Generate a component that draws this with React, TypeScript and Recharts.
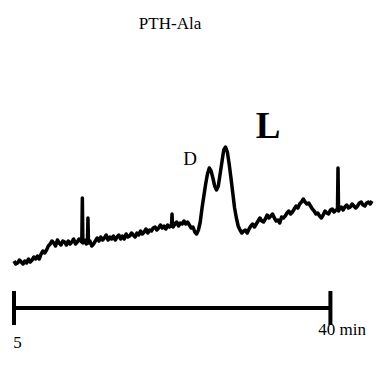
import { LineChart, Line, XAxis, YAxis, ReferenceLine, ReferenceDot } from "recharts"

// retention time (min) and detector signal (arbitrary units)
const times = [
  5.0, 5.2, 5.4, 5.6, 5.8, 6.0, 6.2, 6.4, 6.6, 6.8, 7.0, 7.2, 7.4, 7.6, 7.8, 8.0, 8.2, 8.4, 8.6, 8.8,
  9.0, 9.2, 9.4, 9.6, 9.8, 10.0, 10.2, 10.4, 10.6, 10.8, 11.0, 11.2, 11.4, 11.6, 11.8, 12.0, 12.2,
  12.5, 12.56, 12.62, 12.8, 13.0, 13.12, 13.18, 13.24, 13.4, 13.6, 13.8, 14.0, 14.2, 14.4, 14.6, 14.8,
  15.0, 15.2, 15.4, 15.6, 15.8, 16.0, 16.2, 16.4, 16.6, 16.8, 17.0, 17.2, 17.4, 17.6, 17.8, 18.0,
  18.2, 18.4, 18.6, 18.8, 19.0, 19.2, 19.4, 19.6, 19.8, 20.0, 20.2, 20.4, 20.6, 20.8, 21.0, 21.2,
  21.4, 21.6, 21.8, 22.0, 22.2, 22.42, 22.48, 22.54, 22.6, 22.8, 23.0, 23.2, 23.4, 23.6, 23.8, 24.0,
  24.2, 24.4, 24.6, 24.8, 25.0, 25.2, 25.4, 25.6, 25.8, 26.0, 26.2, 26.4, 26.6, 26.8, 27.0, 27.2,
  27.4, 27.6, 27.8, 28.0, 28.2, 28.4, 28.6, 28.8, 29.0, 29.2, 29.4, 29.6, 29.8, 30.0, 30.2, 30.4,
  30.6, 30.8, 31.0, 31.2, 31.4, 31.6, 31.8, 32.0, 32.2, 32.4, 32.6, 32.8, 33.0, 33.2, 33.4, 33.6,
  33.8, 34.0, 34.2, 34.4, 34.6, 34.8, 35.0, 35.2, 35.4, 35.6, 35.8, 36.0, 36.2, 36.4, 36.6, 36.8,
  37.0, 37.2, 37.4, 37.6, 37.8, 38.0, 38.2, 38.4, 38.6, 38.8, 39.0, 39.2, 39.4, 39.6, 39.8, 40.0,
  40.2, 40.4, 40.6, 40.78, 40.84, 40.9, 41.0, 41.2, 41.4, 41.6, 41.8, 42.0, 42.2, 42.4, 42.6, 42.8,
  43.0, 43.2, 43.4, 43.6, 43.8, 44.0, 44.2, 44.4, 44.6,
]

const signal = [
  55, 53.5, 54, 55.5, 54.5, 53.5, 55, 54, 56, 54.5, 55.5, 57, 56, 57.5, 56, 58.5, 60, 59, 60.5, 62.5,
  63.5, 65, 64, 62.5, 65.5, 64, 63, 65, 64.5, 63, 65, 63.5, 64.5, 66, 63.5, 64.5, 66,
  64.5, 86.5, 64, 65.5, 63.5, 64, 76.5, 64, 65, 62.5, 63.5, 65, 66.5, 65, 67, 65.5,
  66.5, 68, 65.5, 67, 66, 67.5, 65.5, 67, 68, 66, 67.5, 66, 68.5, 67, 67.5, 69,
  68, 67, 69, 68, 70, 68.5, 69.5, 71, 69, 70.5, 70, 71.5, 72, 70.5, 71.5, 73,
  71.5, 72.5, 71, 73, 72, 72.5, 78.5, 72.5, 72, 73.5, 74.5, 72.5, 74, 73.5, 75, 73.5,
  74.5, 73, 71.5, 72, 69.5, 68.5, 70.5, 74.5, 81.5, 87.5, 93.5, 98.5, 101.5, 100, 96.5, 92.5,
  90.5, 92.5, 98.5, 104.5, 110.5, 112, 109.5, 103.5, 96.5, 89, 81.5, 76.5, 72.5, 70.5, 69, 70,
  70.5, 69, 71, 72.5, 73.5, 72, 73.5, 75, 76.5, 75, 74.5, 76, 78, 76.5, 77.5, 78.5,
  76.5, 75, 75.5, 74, 77, 76.5, 77.5, 79, 80, 78.5, 79.5, 81, 82.5, 81.5, 83.5, 84.5,
  86, 84.5, 83.5, 84, 82.5, 81, 80, 78.5, 79, 77.5, 76.5, 78, 80, 79, 78.5, 80.5,
  81, 79.5, 80.5, 80.5, 101.5, 80, 81, 82, 80.5, 82, 83, 81.5, 82, 83.5, 82.5, 81.5,
  82.5, 84, 84.5, 83, 82.5, 84, 84.5, 83.5, 85,
]

const data = times.map((t, i) => ({ t, v: signal[i] }))

// scale bar from 5 to 40 min
const barStart = 5
const barEnd = 40
const barLevel = 31.5
const tickLow = 23
const tickHigh = 40

const serif = "'Liberation Serif', 'Times New Roman', serif"

export default function App() {
  return (
    <div style={{ position: "absolute", left: 0, top: 0, background: "#fff" }}>
      <LineChart width={386} height={371} data={data} margin={{ top: 0, right: 14, bottom: 0, left: 14 }}>
        <XAxis dataKey="t" type="number" domain={[5, 44.6]} hide />
        <YAxis type="number" domain={[0, 185.5]} hide />
        <Line
          dataKey="v"
          stroke="#000"
          strokeWidth={3.5}
          strokeLinejoin="round"
          dot={false}
          isAnimationActive={false}
        />
        <ReferenceLine
          segment={[{ x: barStart, y: barLevel }, { x: barEnd, y: barLevel }]}
          stroke="#000"
          strokeWidth={4}
        />
        <ReferenceLine
          segment={[{ x: barStart, y: tickLow }, { x: barStart, y: tickHigh }]}
          stroke="#000"
          strokeWidth={4}
        />
        <ReferenceLine
          segment={[{ x: barEnd, y: tickLow }, { x: barEnd, y: tickHigh }]}
          stroke="#000"
          strokeWidth={4}
        />
        <ReferenceDot x={22.26} y={174} r={0} label={{ value: "PTH-Ala", position: "center", fontSize: 17, fill: "#000", fontFamily: serif }} />
        <ReferenceDot x={24.47} y={106.5} r={0} label={{ value: "D", position: "center", fontSize: 19, fill: "#000", fontFamily: serif }} />
        <ReferenceDot x={33.1} y={123} r={0} label={{ value: "L", position: "center", fontSize: 37, fontWeight: "bold", fill: "#000", fontFamily: serif }} />
        <ReferenceDot x={5.4} y={14.5} r={0} label={{ value: "5", position: "center", fontSize: 17, fill: "#000", fontFamily: serif }} />
        <ReferenceDot x={41.3} y={21} r={0} label={{ value: "40 min", position: "center", fontSize: 17, fill: "#000", fontFamily: serif }} />
      </LineChart>
    </div>
  )
}
